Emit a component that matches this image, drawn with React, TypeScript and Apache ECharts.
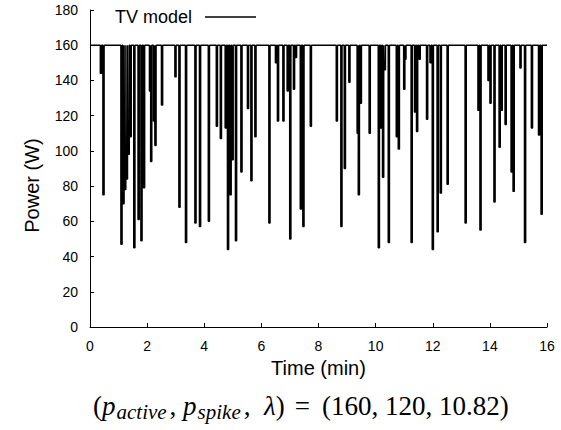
import React, { useEffect, useRef } from "react";
import * as echarts from "echarts";

const activePower = 160;
const spikeWidth = 0.045;
const spikeTimes = [
  0.36, 0.45, 1.08, 1.15, 1.21, 1.27, 1.33, 1.40, 1.53, 1.68, 1.78, 1.87,
  2.08, 2.12, 2.22, 2.27, 2.50, 2.97, 3.11, 3.34, 3.67, 3.83, 4.14, 4.42,
  4.56, 4.73, 4.81, 4.90, 4.97, 5.09, 5.28, 5.51, 5.63, 5.77, 6.26, 6.49,
  6.56, 6.75, 6.90, 6.99, 7.12, 7.19, 7.36, 7.45, 7.71, 8.62, 8.78, 8.90,
  9.06, 9.35, 9.39, 9.46, 9.77, 10.09, 10.17, 10.24, 10.30, 10.44, 10.72,
  10.79, 10.98, 11.02, 11.24, 11.36, 11.43, 11.52, 11.78, 11.90, 11.98,
  12.15, 12.26, 12.50, 13.13, 13.58, 13.65, 13.93, 14.00, 14.14, 14.32,
  14.39, 14.53, 14.74, 14.81, 15.05, 15.21, 15.45, 15.70, 15.79,
];
const spikeValues = [
  144, 75, 47, 70, 78, 84, 98, 108, 45, 61, 49, 79,
  134, 94, 117, 103, 126, 142, 68, 48, 59, 57, 60, 114,
  107, 113, 44, 75, 95, 49, 88, 124, 83, 108, 59, 150,
  117, 117, 134, 50, 135, 153, 67, 57, 114, 117, 57, 90,
  139, 110, 75, 127, 110, 45, 113, 85, 146, 48, 108,
  101, 135, 152, 48, 122, 111, 152, 118, 150, 44,
  54, 76, 81, 59, 123, 55, 140, 127, 71, 102,
  123, 115, 88, 77, 147, 48, 113, 109, 64,
];
const xTicks = { min: 0, max: 16, interval: 2 };
const yTicks = { min: 0, max: 180, interval: 20 };

function buildSeries(): [number, number][] {
  const pts: [number, number][] = [[xTicks.min, activePower]];
  spikeTimes.forEach((t, i) => {
    const v = spikeValues[i];
    pts.push([t, activePower], [t, v], [t + spikeWidth, v], [t + spikeWidth, activePower]);
  });
  pts.push([xTicks.max, activePower]);
  return pts;
}

export default function App() {
  const ref = useRef<HTMLDivElement>(null);
  useEffect(() => {
    if (!ref.current) return;
    const chart = echarts.init(ref.current, undefined, { renderer: "svg" });
    const font = "Liberation Sans, Arial, Helvetica, sans-serif";
    const serif = "Liberation Serif, Times New Roman, serif";
    const base = { fontFamily: serif, color: "#000", fontWeight: "normal" as const };
    chart.setOption({
      animation: false,
      backgroundColor: "#fff",
      grid: { left: 90, right: 14, top: 10, bottom: 103 },
      legend: {
        left: 110,
        top: 3,
        align: "right",
        icon: "rect",
        itemWidth: 51,
        itemHeight: 1.5,
        textStyle: { fontFamily: font, fontSize: 18, color: "#000", padding: [0, 8, 0, 0] },
        data: ["TV model"],
      },
      title: {
        text:
          "{n|(}{i|p}{s|active}{n|,}{i| p}{s|spike}{n|,}{i|  λ}{n|)}{e|=}{n|(160, 120, 10.82)}",
        left: 93,
        top: 391,
        padding: 0,
        textStyle: {
          fontWeight: "normal",
          rich: {
            n: { ...base, fontSize: 27, lineHeight: 30 },
            e: { ...base, fontSize: 27, lineHeight: 30, padding: [0, 12, 0, 10] },
            i: { ...base, fontSize: 27, fontStyle: "italic", lineHeight: 30 },
            s: { ...base, fontSize: 21, fontStyle: "italic", lineHeight: 21, padding: [12, 3, 0, 1] },
          },
        },
      },
      xAxis: {
        type: "value",
        min: xTicks.min,
        max: xTicks.max,
        interval: xTicks.interval,
        name: "Time (min)",
        nameLocation: "middle",
        nameGap: 29,
        nameTextStyle: { fontFamily: font, fontSize: 20, color: "#000" },
        axisLine: { lineStyle: { color: "#000", width: 1 } },
        axisTick: { inside: true, length: 4, lineStyle: { color: "#000" } },
        axisLabel: { fontFamily: font, fontSize: 14, color: "#000", margin: 12 },
        splitLine: { show: false },
      },
      yAxis: {
        type: "value",
        min: yTicks.min,
        max: yTicks.max,
        interval: yTicks.interval,
        name: "Power (W)",
        nameLocation: "middle",
        nameGap: 48,
        nameTextStyle: { fontFamily: font, fontSize: 20, color: "#000", padding: [0, 34, 0, 0] },
        axisLine: { show: true, lineStyle: { color: "#000", width: 1 } },
        axisTick: { show: true, inside: true, length: 4, lineStyle: { color: "#000" } },
        axisLabel: { fontFamily: font, fontSize: 14, color: "#000", margin: 12 },
        splitLine: { show: false },
      },
      series: [
        {
          name: "TV model",
          type: "line",
          data: buildSeries(),
          showSymbol: false,
          symbol: "none",
          lineStyle: { color: "#000", width: 1.4 },
          itemStyle: { color: "#000" },
        },
      ],
    });
    return () => chart.dispose();
  }, []);
  return (
    <div
      ref={ref}
      style={{ position: "absolute", left: 0, top: 0, width: 561, height: 430 }}
    />
  );
}
